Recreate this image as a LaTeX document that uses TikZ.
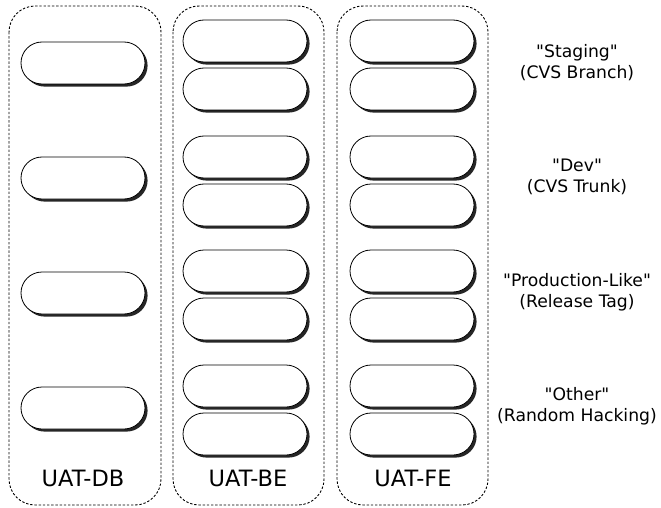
\documentclass[tikz,border=0pt]{standalone}
\usepackage{fontspec}
\setmainfont{DejaVu Sans}[Ligatures=TeXOff]
\usetikzlibrary{shapes.misc,shadows}
\tikzset{
  column/.style={draw, dash pattern=on 2.4pt off 1.8pt, line width=0.9pt, rounded corners=26pt},
  pill/.style={rounded rectangle, draw, line width=0.8pt, fill=white, minimum width=124pt, minimum height=42pt, inner sep=0pt,
    drop shadow={shadow xshift=2.6pt, shadow yshift=-2.6pt, fill=black, opacity=0.85}},
  lbl/.style={font=\fontsize{17.2}{21}\selectfont, align=center},
  colname/.style={font=\fontsize{22.5}{26}\selectfont}
}
\begin{document}
\begin{tikzpicture}[x=1pt,y=-1pt]
\useasboundingbox (0,0) rectangle (661,508);
% columns
\draw[column] (9,6) rectangle (161,505);
\draw[column] (173,6) rectangle (324,505);
\draw[column] (337,6) rectangle (488,505);
% DB nodes
\node[pill] (db1) at (83,63) {};
\node[pill] (db2) at (83,178) {};
\node[pill] (db3) at (83,293) {};
\node[pill] (db4) at (83,408) {};
% BE nodes
\node[pill] (be1) at (245,41) {};
\node[pill] (be2) at (245,89) {};
\node[pill] (be3) at (245,157) {};
\node[pill] (be4) at (245,205) {};
\node[pill] (be5) at (245,271) {};
\node[pill] (be6) at (245,319) {};
\node[pill] (be7) at (245,386) {};
\node[pill] (be8) at (245,434) {};
% FE nodes
\node[pill] (fe1) at (412,41) {};
\node[pill] (fe2) at (412,89) {};
\node[pill] (fe3) at (412,157) {};
\node[pill] (fe4) at (412,205) {};
\node[pill] (fe5) at (412,271) {};
\node[pill] (fe6) at (412,319) {};
\node[pill] (fe7) at (412,386) {};
\node[pill] (fe8) at (412,434) {};
% column names
\node[colname] (ndb) at (83,478) {UAT-DB};
\node[colname] (nbe) at (248,478) {UAT-BE};
\node[colname] (nfe) at (413,478) {UAT-FE};
% row labels
\node[lbl] (l1) at (577,63) {"Staging"\\(CVS Branch)};
\node[lbl] (l2) at (577,177) {"Dev"\\(CVS Trunk)};
\node[lbl] (l3) at (577,292) {"Production-Like"\\(Release Tag)};
\node[lbl] (l4) at (577,406) {"Other"\\(Random Hacking)};
\end{tikzpicture}
\end{document}
